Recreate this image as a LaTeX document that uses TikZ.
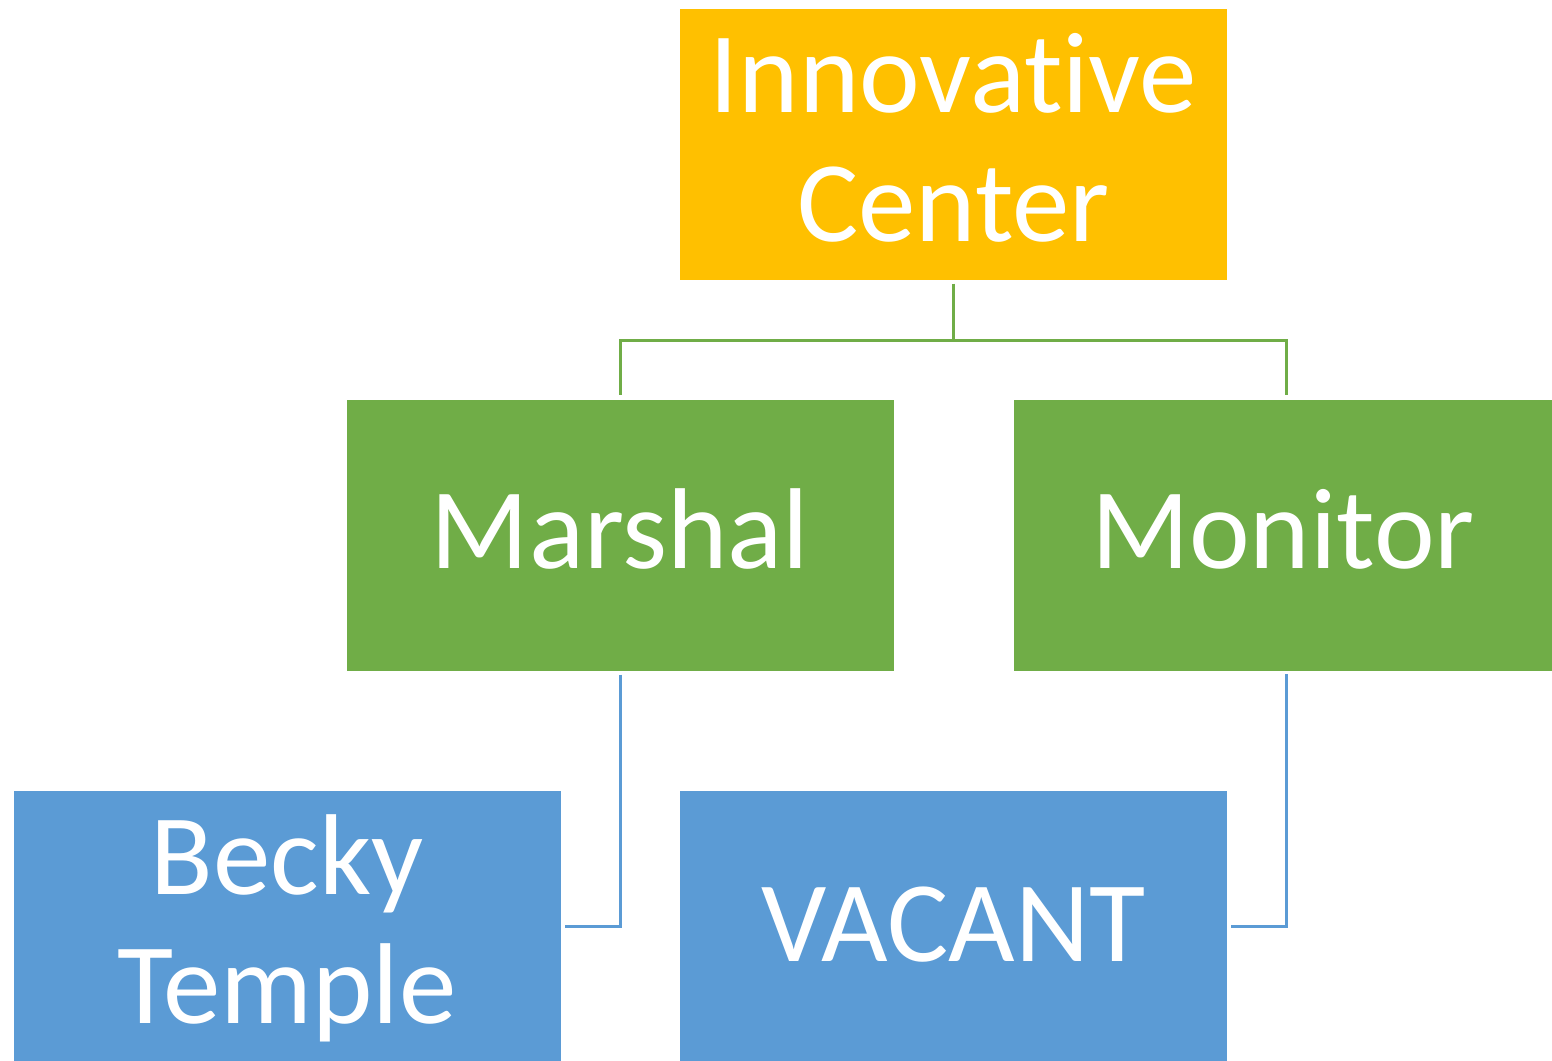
\documentclass[tikz,border=0pt]{standalone}
\usepackage{fontspec}
\setmainfont[Ligatures={NoCommon,NoRare}]{Carlito}
\definecolor{cgold}{HTML}{FFC000}
\definecolor{cgreen}{HTML}{70AD47}
\definecolor{cblue}{HTML}{5B9BD5}
\newcommand{\uptext}[2]{\raisebox{#1}[\height][\depth]{\begin{tabular}{@{}c@{}}#2\end{tabular}}}
\begin{document}
\begin{tikzpicture}[x=1pt,y=-1pt,
  boxA/.style={rectangle, draw=white, line width=1pt, minimum width=548pt, minimum height=272pt, inner sep=0pt,
    text=white, align=center, font=\fontsize{115}{129}\selectfont},
  linkG/.style={draw=cgreen, line width=3pt},
  linkB/.style={draw=cblue, line width=3pt}]
\useasboundingbox (0,0) rectangle (1552,1060);
\begin{scope}
\clip (0,0) rectangle (1552,1060);
\node[boxA, fill=cgold] (top) at (953.5,144) {\uptext{-7pt}{Innovative\\Center}};
\node[boxA, fill=cgreen] (mar) at (620,535) {\uptext{-8pt}{Marshal}};
\node[boxA, fill=cgreen, minimum width=540pt] (mon) at (1283,535) {\uptext{-8pt}{Monitor}};
\node[boxA, fill=cblue] (bt) at (287,926) {\uptext{-7.5pt}{Becky\\Temple}};
\node[boxA, fill=cblue] (vac) at (953.5,926) {\uptext{-10pt}{VACANT}};
\end{scope}
\coordinate (hub) at (953.5,340);
\draw[linkG] ([yshift=-3pt]top.south) -- (hub);
\draw[linkG] ([yshift=4pt]mar.north) |- (1286.5,340) -- (1286.5,395);
\draw[linkB] ([yshift=-3pt]mar.south) |- ([xshift=3pt]bt.east);
\draw[linkB] (1286.5,674) |- ([xshift=3pt]vac.east);
\end{tikzpicture}
\end{document}
